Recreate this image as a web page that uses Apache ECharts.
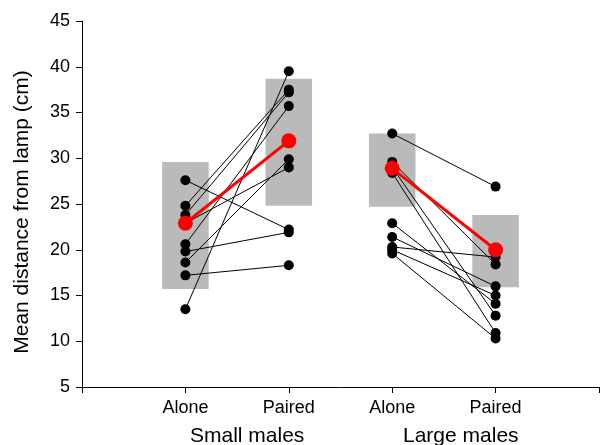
<!DOCTYPE html>
<html>
<head>
<meta charset="utf-8">
<script src="https://cdn.jsdelivr.net/npm/echarts@6/dist/echarts.min.js"></script>
<style>html,body{margin:0;padding:0;background:#fff}#c{width:602px;height:445px}</style>
</head>
<body>
<div id="c"></div>
<script>
// ---- data ----
const xTickLabels = ['', 'Alone', 'Paired', 'Alone', 'Paired', ''];
const groupLabels = ['Small males', 'Large males'];
const yTitle = 'Mean distance from lamp (cm)';

// Small males: individual pairs (Alone at x=1, Paired at x=2)
const smallAlone  = [27.6, 24.8, 23.8, 22.9, 20.6, 19.8, 18.6, 17.2, 13.5];
const smallPaired = [22.2, 37.5, 37.2, 29.0, 35.7, 21.9, 29.9, 18.3, 39.5];
// Large males: individual pairs (Alone at x=3, Paired at x=4)
const largeAlone  = [32.7, 29.6, 29.0, 28.4, 22.9, 21.4, 20.3, 20.0, 19.6];
const largePaired = [26.9, 18.4, 12.8, 10.9, 14.1, 16.0, 19.2, 15.0, 10.3];

// Group means (red) and grey boxes (low/high)
const smallMeans = [22.9, 31.9];
const largeMeans = [28.9, 20.0];
const boxX    = [1, 2, 3, 4];
const boxLow  = [15.7, 24.8, 24.7, 15.9];
const boxHigh = [29.6, 38.7, 32.7, 23.8];

// ---- build ----
const segs = [];
smallAlone.forEach((v, i) => segs.push([1, v, 2, smallPaired[i]]));
largeAlone.forEach((v, i) => segs.push([3, v, 4, largePaired[i]]));
const pts = [];
smallAlone.forEach(v => pts.push([1, v]));
smallPaired.forEach(v => pts.push([2, v]));
largeAlone.forEach(v => pts.push([3, v]));
largePaired.forEach(v => pts.push([4, v]));
const boxes = boxX.map((x, i) => [x, boxLow[i], boxHigh[i]]);

const FONT = 'Liberation Sans, Arial, sans-serif';
const chart = echarts.init(document.getElementById('c'), null, {renderer: 'canvas'});
const halfW = 0.225;

chart.setOption({
  animation: false,
  backgroundColor: '#ffffff',
  grid: {left: 82, right: 0, top: 21, bottom: 58},
  xAxis: {
    type: 'value', min: 0, max: 5, interval: 1,
    splitLine: {show: false},
    axisLine: {show: true, onZero: false, lineStyle: {color: '#000', width: 1}},
    axisTick: {show: true, length: 6, inside: false, lineStyle: {color: '#000'}},
    axisLabel: {
      margin: 12, fontSize: 18, color: '#000', fontFamily: FONT,
      formatter: v => xTickLabels[Math.round(v)] || ''
    }
  },
  yAxis: {
    type: 'value', min: 5, max: 45, interval: 5,
    splitLine: {show: false},
    axisLine: {show: true, lineStyle: {color: '#000', width: 1}},
    axisTick: {show: true, length: 6, inside: false, lineStyle: {color: '#000'}},
    axisLabel: {margin: 12, fontSize: 18, color: '#000', fontFamily: FONT}
  },
  graphic: [
    {type: 'text', left: 190, top: 426, style: {text: groupLabels[0], font: '21px ' + FONT, fill: '#000'}},
    {type: 'text', left: 403, top: 426, style: {text: groupLabels[1], font: '21px ' + FONT, fill: '#000'}},
    {type: 'text', x: 22, y: 212, rotation: Math.PI / 2,
     style: {text: yTitle, font: '21px ' + FONT, fill: '#000', align: 'center', verticalAlign: 'middle'}}
  ],
  series: [
    {
      type: 'custom', z: 1, data: boxes,
      renderItem: (params, api) => {
        const x = api.value(0), lo = api.value(1), hi = api.value(2);
        const p1 = api.coord([x - halfW, hi]);
        const p2 = api.coord([x + halfW, lo]);
        return {type: 'rect', shape: {x: p1[0], y: p1[1], width: p2[0] - p1[0], height: p2[1] - p1[1]},
                style: {fill: '#bababa'}};
      }
    },
    {
      type: 'custom', z: 2, data: segs,
      renderItem: (params, api) => {
        const a = api.coord([api.value(0), api.value(1)]);
        const b = api.coord([api.value(2), api.value(3)]);
        return {type: 'line', shape: {x1: a[0], y1: a[1], x2: b[0], y2: b[1]},
                style: {stroke: '#000', lineWidth: 1}};
      }
    },
    {
      type: 'scatter', z: 3, data: pts, symbol: 'circle', symbolSize: 10,
      itemStyle: {color: '#000', opacity: 1}
    },
    {
      type: 'line', z: 4, data: [[1, smallMeans[0]], [2, smallMeans[1]]],
      symbol: 'circle', symbolSize: 15, showSymbol: true,
      lineStyle: {color: '#ff0000', width: 3}, itemStyle: {color: '#ff0000', opacity: 1}
    },
    {
      type: 'line', z: 4, data: [[3, largeMeans[0]], [4, largeMeans[1]]],
      symbol: 'circle', symbolSize: 15, showSymbol: true,
      lineStyle: {color: '#ff0000', width: 3}, itemStyle: {color: '#ff0000', opacity: 1}
    }
  ]
});
</script>
</body>
</html>
